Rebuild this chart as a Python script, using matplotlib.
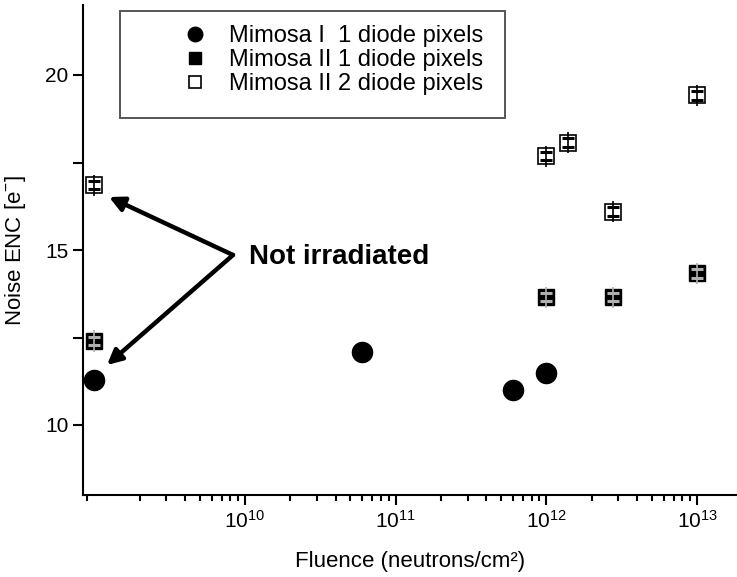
import numpy as np
import matplotlib
matplotlib.use("Agg")
import matplotlib.pyplot as plt
from matplotlib.patches import Rectangle
from matplotlib.ticker import LogLocator, FixedLocator, NullFormatter

plt.rcParams['font.family'] = ['Liberation Sans', 'DejaVu Sans']
plt.rcParams['mathtext.fontset'] = 'custom'
plt.rcParams['mathtext.rm'] = 'Liberation Sans'
plt.rcParams['mathtext.it'] = 'Liberation Sans'
plt.rcParams['mathtext.bf'] = 'Liberation Sans:bold'

# Mimosa I, 1 diode pixels
m1_fluence = [1e9, 6e10, 6e11, 1e12]
m1_noise = [11.3, 12.1, 11.0, 11.5]

# Mimosa II, 1 diode pixels
m2a_fluence = [1e9, 1e12, 2.75e12, 1e13]
m2a_noise = [12.4, 13.65, 13.65, 14.33]
m2a_err = [0.12, 0.12, 0.12, 0.12]

# Mimosa II, 2 diode pixels
m2b_fluence = [1e9, 1e12, 1.4e12, 2.75e12, 1e13]
m2b_noise = [16.85, 17.68, 18.07, 16.1, 19.42]
m2b_err = [0.12, 0.12, 0.12, 0.12, 0.12]

xticks = [1e10, 1e11, 1e12, 1e13]
xticklabels = [r'$10^{10}$', r'$10^{11}$', r'$10^{12}$', r'$10^{13}$']
yticks = [10, 15, 20]
yminor = [12.5, 17.5]

W, H = 737, 577
fig = plt.figure(figsize=(W / 100, H / 100), dpi=100)
ax = fig.add_axes([83 / W, 82 / H, (W - 83) / W, (495 - 5) / H])

ax.set_xscale('log')
ax.set_xlim(10 ** 8.925, 10 ** 13.265)
ax.set_ylim(8, 22)

# markers
ax.plot(m1_fluence, m1_noise, 'o', color='black', markersize=14.5, zorder=3,
        label='Mimosa I  1 diode pixels')
ax.plot(m2a_fluence, m2a_noise, 's', color='black', markersize=11.5, zorder=3,
        label='Mimosa II 1 diode pixels')
ax.plot(m2b_fluence, m2b_noise, 's', markerfacecolor='white', markeredgecolor='black',
        markeredgewidth=1.2, markersize=11.5, zorder=3, label='Mimosa II 2 diode pixels')

# error bars drawn over the square markers
stem = 0.3
ax.errorbar(m2a_fluence, m2a_noise, yerr=[stem] * len(m2a_noise), fmt='none',
            ecolor='#b0b0b0', elinewidth=1.2, zorder=4)
ax.errorbar(m2a_fluence, m2a_noise, yerr=m2a_err, fmt='none', ecolor='#b0b0b0',
            elinewidth=0, capsize=4.5, capthick=2.2, zorder=4)
ax.errorbar(m2b_fluence, m2b_noise, yerr=[stem] * len(m2b_noise), fmt='none',
            ecolor='black', elinewidth=1.2, zorder=4)
ax.errorbar(m2b_fluence, m2b_noise, yerr=m2b_err, fmt='none', ecolor='black',
            elinewidth=0, capsize=4.5, capthick=2.2, zorder=4)

# axes styling
for side in ('top', 'right'):
    ax.spines[side].set_visible(False)
for side in ('left', 'bottom'):
    ax.spines[side].set_linewidth(1.5)

ax.xaxis.set_major_locator(FixedLocator(xticks))
ax.set_xticklabels(xticklabels)
ax.xaxis.set_minor_locator(LogLocator(base=10, subs=np.arange(2, 10)))
ax.xaxis.set_minor_formatter(NullFormatter())
ax.set_yticks(yticks)
ax.yaxis.set_minor_locator(FixedLocator(yminor))

ax.tick_params(axis='both', which='major', direction='out', width=1.5, length=7,
               labelsize=15, colors='black')
ax.tick_params(axis='x', which='minor', direction='out', width=1.5, length=4)
ax.tick_params(axis='y', which='minor', direction='out', width=1.5, length=7)

ax.set_xlabel('Fluence (neutrons/cm²)', fontsize=16, labelpad=14)
ax.set_ylabel(r'Noise ENC [e$^{-}$]', fontsize=16, labelpad=12)

# legend: frameless entries inside a hand-placed box
leg = ax.legend(loc='upper left', bbox_to_anchor=(183 / W, 1 - 25 / H),
                bbox_transform=fig.transFigure, fontsize=17, frameon=False,
                borderpad=0, borderaxespad=0, handletextpad=0.95,
                labelspacing=0.08, numpoints=1, markerscale=0.72, handlelength=1.0)
fig.add_artist(Rectangle((120 / W, 1 - 118 / H), (505 - 120) / W, (118 - 11) / H,
                         transform=fig.transFigure, fill=False, edgecolor='#555555',
                         linewidth=1.4))

# annotation for the non-irradiated reference points
tail = (233, H - 255)
for tip in [(109, H - 197), (107, H - 365)]:
    ax.annotate('', xy=tip, xycoords='figure pixels', xytext=tail,
                textcoords='figure pixels',
                arrowprops=dict(arrowstyle='-|>', lw=3.2, color='black',
                                mutation_scale=22, shrinkA=0, shrinkB=0))
fig.text(249 / W, 1 - 257 / H, 'Not irradiated', fontsize=20, fontweight='bold',
         va='center', ha='left')

fig.savefig('out.png', dpi=100)
